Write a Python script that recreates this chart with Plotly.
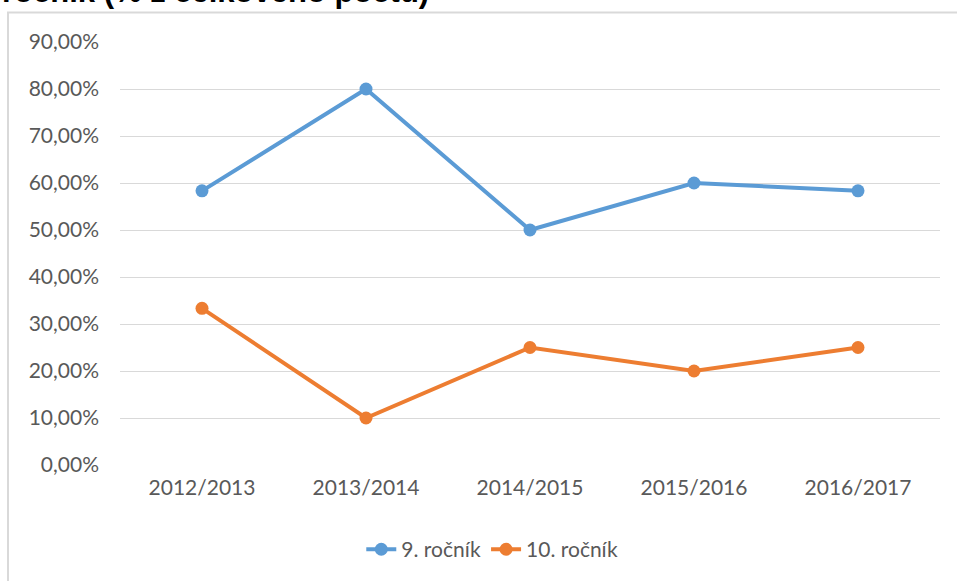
import plotly.graph_objects as go

roky = ["2012/2013", "2013/2014", "2014/2015", "2015/2016", "2016/2017"]
rocnik_9 = [58.33, 80.0, 50.0, 60.0, 58.33]
rocnik_10 = [33.33, 10.0, 25.0, 20.0, 25.0]
y_ticks = [0, 10, 20, 30, 40, 50, 60, 70, 80, 90]
y_labels = ["%d,00%%" % v for v in y_ticks]

font = "Lato, 'Open Sans', sans-serif"
gray = "#595959"

fig = go.Figure()
fig.add_trace(go.Scatter(
    x=roky, y=rocnik_9, mode="lines+markers", name="9. ročník",
    line=dict(color="#5B9BD5", width=4),
    marker=dict(size=13, color="#5B9BD5")
))
fig.add_trace(go.Scatter(
    x=roky, y=rocnik_10, mode="lines+markers", name="10. ročník",
    line=dict(color="#ED7D31", width=4),
    marker=dict(size=13, color="#ED7D31")
))

# ramik grafu (presahuje okno vpravo a dole)
fig.add_shape(type="rect", xref="paper", yref="paper",
              x0=-0.1366, x1=1.06, y0=-0.35, y1=1.0697,
              line=dict(color="#D9D9D9", width=2), layer="below")

# orezany nadpis nad grafom
fig.add_annotation(text="<b>ročník (% z celkového počtu)</b>",
                   xref="paper", yref="paper", x=-0.1463, y=1.1195,
                   xanchor="left", yanchor="middle", showarrow=False,
                   font=dict(family="Liberation Sans, Arial", size=31, color="black"))

fig.update_layout(
    width=957, height=581,
    margin=dict(l=120, r=17, t=42, b=116, autoexpand=False),
    paper_bgcolor="white", plot_bgcolor="white",
    font=dict(family=font, size=21, color=gray),
    showlegend=True,
    legend=dict(orientation="h", x=0.454, xanchor="center", y=-0.2, yanchor="middle",
                font=dict(family=font, size=21, color=gray)),
    xaxis=dict(type="category", range=[-0.5, 4.5], showgrid=False, zeroline=False,
               showline=False, ticks="", ticklabelstandoff=8,
               tickfont=dict(size=21, color=gray)),
    yaxis=dict(range=[0, 90], tickvals=y_ticks, ticktext=y_labels,
               showgrid=True, gridcolor="#D9D9D9", gridwidth=1, zeroline=False,
               showline=False, ticks="", ticklabelstandoff=20,
               tickfont=dict(size=21, color=gray)),
)

fig.write_html("out.html", config={"displayModeBar": False},
               post_script="document.body.style.margin='0';")
